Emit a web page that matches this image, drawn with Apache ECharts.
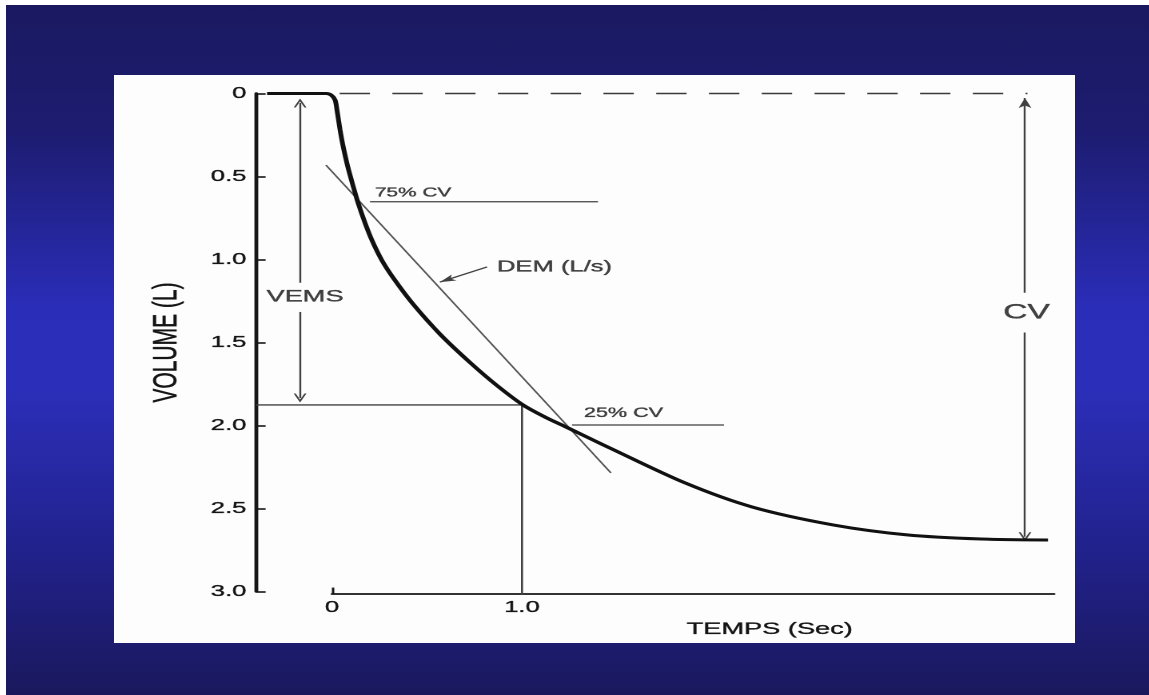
<!DOCTYPE html>
<html>
<head>
<meta charset="utf-8">
<script src="https://cdn.jsdelivr.net/npm/echarts@6/dist/echarts.min.js"></script>
<style>
html,body{margin:0;padding:0;width:1149px;height:695px;overflow:hidden;background:#ffffff;}
#bg{position:absolute;left:6px;top:5px;width:1143px;height:690px;
  background:linear-gradient(to bottom,#1a1960 0%,#1d1c70 18%,#2a2db8 44%,#2b2eb8 56%,#21218a 80%,#1a185c 100%);}
#panel{position:absolute;left:114px;top:75px;width:961px;height:568px;background:#fdfdfd;}
#chart{position:absolute;left:114px;top:75px;width:601px;height:568px;transform:scaleX(1.599);transform-origin:0 0;}
</style>
</head>
<body>
<div id="bg"></div>
<div id="panel"></div>
<div id="chart"></div>
<script>
// ---------------- data (time in s, volume in L) ----------------
const timeRange = [-0.4, 3.8];
const volumeRange = [0, 3];
const volumeInterval = 0.5;
const yTickValues = [0, 0.5, 1.0, 1.5, 2.0, 2.5, 3.0];
const yTickLabels = ['0', '0.5', '1.0', '1.5', '2.0', '2.5', '3.0'];
const xTickValues = [0, 1];
const xTickLabels = ['0', '1.0'];

const curveTime = [-0.342, -0.15, -0.032, -0.005, 0.016, 0.026, 0.042, 0.058, 0.084, 0.111, 0.137,
  0.174, 0.211, 0.263, 0.326, 0.426, 0.568, 0.726, 0.868, 1.005,
  1.121, 1.226, 1.463, 1.858, 2.211, 2.637, 3.026, 3.416, 3.768];
const curveVolume = [0, 0, 0, 0.009, 0.039, 0.099, 0.217, 0.316, 0.446, 0.557, 0.658,
  0.780, 0.886, 1.006, 1.117, 1.268, 1.449, 1.620, 1.759, 1.876,
  1.949, 2.006, 2.136, 2.346, 2.491, 2.599, 2.659, 2.684, 2.690];

const dashedTime = [0.04, 3.66];          // CV start reference (volume 0)
const vemsTime = 1.0;
const vemsVolume = 1.876;
const xAxisBaseVolume = 3.02;
const cv75Volume = 0.652;
const cv75Time = [0.2, 1.4];
const cv25Volume = 1.997;
const cv25Time = [1.263, 2.063];
const demTime = [-0.032, 1.468];
const demVolume = [0.431, 2.286];

const vemsArrowTime = -0.168;
const vemsArrowUp = [1.14, 0.057];
const vemsArrowDown = [1.316, 1.834];
const cvArrowTime = 3.647;
const cvArrowUp = [1.20, 0.027];
const cvArrowDown = [1.44, 2.67];
const demPointerTime = [0.816, 0.568];
const demPointerVolume = [1.045, 1.136];

const annotationText = ['VEMS', 'CV', '75% CV', '25% CV', 'DEM (L/s)'];
const annotationTime = [-0.142, 3.655, 0.226, 1.326, 0.868];
const annotationVolume = [1.226, 1.32, 0.599, 1.925, 1.045];

// ---------------- styles ----------------
const FONT = "'Liberation Sans', Arial, sans-serif";
const INK = '#161616';
const TXT = '#141414';
const THIN = '#404040';
const annStyle = [
  {fontSize: 17, align: 'center'},
  {fontSize: 21, align: 'center'},
  {fontSize: 13, align: 'left'},
  {fontSize: 13.5, align: 'left'},
  {fontSize: 16, align: 'left'}
];
const heavy = {textBorderColor: TXT, textBorderWidth: 0.35};
const chevron = 'path://M0,10 L5,0 L10,10 L8.4,10 L5,3.2 L1.6,10 Z';

const chart = echarts.init(document.getElementById('chart'), null, {renderer: 'canvas', devicePixelRatio: 2});

function pair(ts, vs) { return ts.map((t, i) => [t, vs[i]]); }
function arrow(t0, v0, t1, v1, sym, size) {
  return [{coord: [t0, v0], symbol: 'none'}, {coord: [t1, v1], symbol: sym, symbolSize: size}];
}
function thinLine(data, extra) {
  return Object.assign({
    type: 'line', xAxisIndex: 0, yAxisIndex: 0, data: data, showSymbol: false, symbol: 'none',
    silent: true, clip: false, lineStyle: {color: THIN, width: 1.3}, z: 3
  }, extra || {});
}

const option = {
  animation: false,
  grid: [
    {left: 88.8, right: 13.1, top: 18.5, bottom: 51.5},
    {left: 136.3, right: 13.1, top: 18.5, bottom: 51.5}
  ],
  xAxis: [
    {type: 'value', gridIndex: 0, min: timeRange[0], max: timeRange[1], show: false},
    {type: 'value', gridIndex: 1, min: 0, max: timeRange[1], offset: 3, position: 'bottom',
      axisLine: {show: true, onZero: false, lineStyle: {color: INK, width: 1.8}},
      axisTick: {show: true, inside: true, length: 6, customValues: [xTickValues[0]], lineStyle: {color: INK, width: 1.5}},
      axisLabel: Object.assign({show: true, margin: 6, customValues: xTickValues, color: TXT, fontSize: 16, fontFamily: FONT,
        formatter: v => { const i = xTickValues.findIndex(x => Math.abs(x - v) < 1e-6); return i >= 0 ? xTickLabels[i] : ''; }}, heavy),
      splitLine: {show: false},
      name: 'TEMPS (Sec)', nameLocation: 'middle', nameGap: 27,
      nameTextStyle: Object.assign({color: TXT, fontSize: 17, fontFamily: FONT, padding: [0, 0, 0, 96]}, heavy)
    }
  ],
  yAxis: [
    {type: 'value', gridIndex: 0, inverse: true, min: volumeRange[0], max: volumeRange[1], interval: volumeInterval,
      position: 'left',
      axisLine: {show: true, onZero: false, lineStyle: {color: INK, width: 2.4}},
      axisTick: {show: true, inside: true, length: 6, customValues: yTickValues, lineStyle: {color: INK, width: 1.6}},
      axisLabel: Object.assign({margin: 6, color: TXT, fontSize: 16, fontFamily: FONT,
        formatter: v => yTickLabels[Math.round(v / volumeInterval)]}, heavy),
      splitLine: {show: false},
      name: 'VOLUME (L)', nameLocation: 'middle', nameRotate: 90, nameGap: 45,
      nameTextStyle: Object.assign({color: TXT, fontSize: 21, fontFamily: FONT}, heavy)
    },
    {type: 'value', gridIndex: 1, inverse: true, min: volumeRange[0], max: volumeRange[1], show: false}
  ],
  series: [
    // dashed zero line up to CV arrow
    thinLine([[dashedTime[0], 0], [dashedTime[1], 0]], {lineStyle: {color: '#3a3a3a', width: 1.6, type: [19, 14]}}),
    // VEMS level and 1 s vertical
    thinLine([[timeRange[0], vemsVolume], [vemsTime, vemsVolume], [vemsTime, xAxisBaseVolume]], {
      markLine: {
        silent: true, animation: false, label: {show: false},
        lineStyle: {color: THIN, width: 1.2, type: 'solid'},
        data: [
          arrow(vemsArrowTime, vemsArrowUp[0], vemsArrowTime, vemsArrowUp[1], chevron, [8, 9]),
          arrow(vemsArrowTime, vemsArrowDown[0], vemsArrowTime, vemsArrowDown[1], chevron, [8, 9]),
          arrow(cvArrowTime, cvArrowUp[0], cvArrowTime, cvArrowUp[1], 'arrow', [6, 10]),
          arrow(cvArrowTime, cvArrowDown[0], cvArrowTime, cvArrowDown[1], chevron, [8, 9]),
          arrow(demPointerTime[0], demPointerVolume[0], demPointerTime[1], demPointerVolume[1], 'arrow', [5, 10])
        ]
      }
    }),
    // 75% CV and 25% CV levels
    thinLine([[cv75Time[0], cv75Volume], [cv75Time[1], cv75Volume]]),
    thinLine([[cv25Time[0], cv25Volume], [cv25Time[1], cv25Volume]]),
    // DEM line
    thinLine(pair(demTime, demVolume), {lineStyle: {color: '#555555', width: 1.2}}),
    // spirogram curve
    {type: 'line', xAxisIndex: 0, yAxisIndex: 0, data: pair(curveTime, curveVolume), showSymbol: false, symbol: 'none',
      smooth: 0.3, silent: true, z: 5,
      lineStyle: {color: '#111111', width: 3}},
    // text annotations
    {type: 'scatter', xAxisIndex: 0, yAxisIndex: 0, symbolSize: 0, silent: true, z: 6,
      data: annotationText.map((txt, i) => ({
        value: [annotationTime[i], annotationVolume[i]],
        label: Object.assign({
          show: true, formatter: txt,
          position: annStyle[i].align === 'center' ? 'inside' : 'right', distance: 0,
          align: annStyle[i].align, verticalAlign: 'middle',
          color: TXT, fontSize: annStyle[i].fontSize, fontFamily: FONT
        }, heavy)
      }))
    }
  ]
};
chart.setOption(option);
</script>
</body>
</html>
